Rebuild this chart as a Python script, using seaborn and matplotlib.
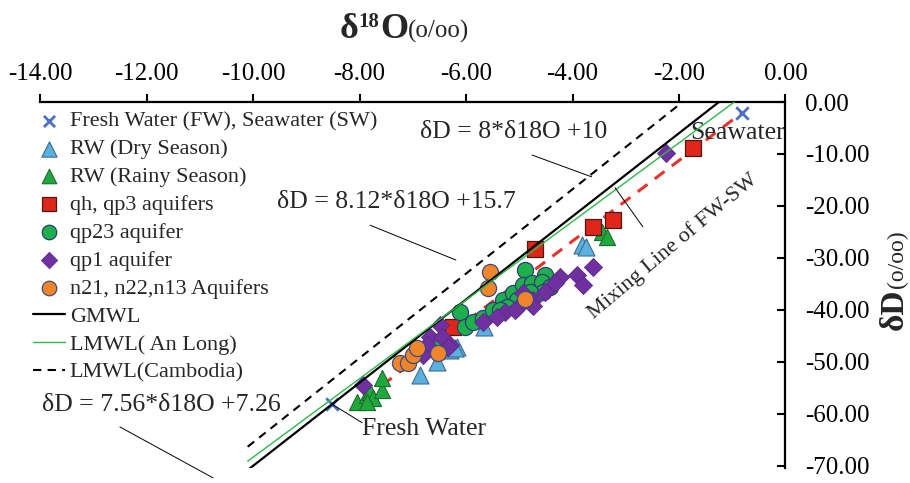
import numpy as np
import pandas as pd
import matplotlib
matplotlib.use("Agg")
import matplotlib.pyplot as plt
import seaborn as sns
from matplotlib.transforms import IdentityTransform

# ---------------- data ----------------
fw_sw_x = [-8.52, -0.82]
fw_sw_y = [-58.1, -2.1]

dry_x = [-3.82, -3.74, -6.17, -6.30, -6.21, -6.54, -6.86, -5.66]
dry_y = [-27.5, -27.9, -47.1, -47.7, -47.3, -50.0, -52.5, -43.2]

rainy_x = [-8.05, -7.86, -7.80, -7.74, -7.57, -7.57, -7.86, -3.45, -3.35]
rainy_y = [-57.7, -56.3, -55.8, -56.9, -55.4, -53.1, -57.7, -25.0, -26.0]

qh_x = [-4.70, -6.24, -3.62, -3.24, -1.74]
qh_y = [-28.3, -43.3, -24.0, -22.7, -8.8]

qp23_x = [-4.89, -4.52, -6.11, -6.02, -5.87, -5.68, -5.49, -5.31, -5.12, -4.93,
          -4.76, -4.57, -4.42, -4.55, -4.80, -5.04, -5.23, -5.36, -6.58]
qp23_y = [-32.3, -33.3, -40.4, -43.3, -42.3, -41.5, -40.0, -38.1, -36.7, -35.2,
          -34.8, -34.6, -35.6, -36.5, -36.5, -38.1, -39.4, -40.0, -46.7]

qp1_x = [-2.24, -3.62, -3.92, -3.80, -4.23, -4.33, -4.52, -4.74, -4.93, -5.04,
         -5.27, -5.42, -5.68, -6.49, -6.68, -6.45, -6.30, -6.73, -6.81, -6.34,
         -7.93, -4.74, -5.08]
qp1_y = [-9.8, -31.7, -33.3, -35.2, -33.7, -34.8, -36.5, -38.1, -36.7, -39.6,
         -40.4, -41.3, -42.3, -42.9, -45.2, -45.2, -46.7, -46.7, -48.7, -47.1,
         -54.4, -39.2, -40.0]

n2_x = [-5.55, -5.59, -4.89, -6.53, -7.24, -7.09, -7.00, -6.92]
n2_y = [-32.7, -35.8, -37.9, -48.3, -50.2, -50.2, -48.7, -47.3]

mwl_names = ["GMWL", "LMWL( An Long)", "LMWL(Cambodia)"]
mwl_slope = [8.0, 7.56, 8.12]
mwl_intercept = [10.0, 7.26, 15.7]
mwl_x_range = [-10.1, 0.0]

mix_x = [-7.9, -0.82]
mix_y = [-57.0, -2.1]

x_ticks = [-14, -12, -10, -8, -6, -4, -2, 0]
y_ticks = [0, -10, -20, -30, -40, -50, -60, -70]

# ---------------- style ----------------
sns.set_theme(style="white")
plt.rcParams["font.family"] = ["Liberation Serif", "DejaVu Serif"]
plt.rcParams["axes.unicode_minus"] = False

W, H = 910, 483
fig = plt.figure(figsize=(W / 100, H / 100), dpi=100)
ax = fig.add_axes([40 / W, 1 - 468 / H, (785.5 - 40) / W, (468 - 102) / H])

# mixing line (under markers)
sns.lineplot(x=mix_x, y=mix_y, ax=ax, color="#e8332a", lw=2.2,
             linestyle=(0, (4, 3)), sort=False, estimator=None, zorder=1)

groups = [
    (fw_sw_x, fw_sw_y, "Fresh Water (FW), Seawater (SW)", "x", "#4a6fc4", "#4a6fc4", 80, 2.0),
    (dry_x, dry_y, "RW (Dry Season)", "^", "#5ab0e0", "#3f6d8f", 150, 0.8),
    (rainy_x, rainy_y, "RW (Rainy Season)", "^", "#1fa83c", "#1d6a2e", 135, 0.8),
    (qh_x, qh_y, "qh, qp3 aquifers", "s", "#e0261b", "#4a1a10", 130, 0.9),
    (qp23_x, qp23_y, "qp23 aquifer", "o", "#1eb04a", "#2b3d7a", 135, 0.9),
    (qp1_x, qp1_y, "qp1 aquifer", "D", "#7030a0", "#5b2a8a", 85, 0.6),
    (n2_x, n2_y, "n21, n22,n13 Aquifers", "o", "#f0852a", "#3d4c80", 135, 0.9),
]
for gx, gy, lab, mk, fc, ec, s, lw in groups:
    df = pd.DataFrame({"x": gx, "y": gy})
    if mk == "x":
        sns.scatterplot(data=df, x="x", y="y", ax=ax, marker=mk, color=fc, s=s,
                        linewidth=lw, label=lab, zorder=3)
    else:
        sns.scatterplot(data=df, x="x", y="y", ax=ax, marker=mk, color=fc,
                        edgecolor=ec, s=s, linewidth=lw, label=lab, zorder=3)

line_styles = [("black", 1.6, "-"), ("#2db84a", 1.0, "-"), ("black", 1.5, (0, (4, 3)))]
for name, sl, ic, (c, lw, ls) in zip(mwl_names, mwl_slope, mwl_intercept, line_styles):
    xs = np.array(mwl_x_range)
    ys = sl * xs + ic
    sns.lineplot(x=xs, y=ys, ax=ax, color=c, lw=lw, linestyle=ls, label=name,
                 sort=False, estimator=None, zorder=4)

# ---------------- axes ----------------
ax.set_xlim(-14, 0)
ax.set_ylim(-70.4, 0)
ax.xaxis.tick_top()
ax.yaxis.tick_right()
ax.set_xticks(x_ticks)
ax.set_yticks(y_ticks)
ax.set_xticklabels([f"{v:.2f}" for v in x_ticks])
ax.set_yticklabels([f"{v:.2f}" for v in y_ticks])
for side in ["left", "bottom"]:
    ax.spines[side].set_visible(False)
for side in ["top", "right"]:
    ax.spines[side].set_visible(True)
    ax.spines[side].set_color("black")
    ax.spines[side].set_linewidth(1.6)
ax.tick_params(axis="x", direction="out", length=6, width=1.5, pad=6,
               labelsize=18, colors="black", top=True, bottom=False)
ax.tick_params(axis="y", direction="in", length=6, width=1.5, pad=14,
               labelsize=18, colors="black", right=True, left=False)
ax.set_xlabel("")
ax.set_ylabel("")
ax.grid(False)

# ---------------- legend ----------------
handles, labels = ax.get_legend_handles_labels()
order = [g[2] for g in groups] + mwl_names
hmap = dict(zip(labels, handles))
leg = ax.legend([hmap[o] for o in order], order, loc="upper left",
                bbox_to_anchor=(33 / W, 1 - 111 / H), bbox_transform=fig.transFigure,
                frameon=False, fontsize=16, borderpad=0, borderaxespad=0,
                handlelength=1.45, handletextpad=0.2, labelspacing=0.33,
                markerscale=0.9)

# ---------------- annotations ----------------
tfs = 18.5
ax.text(-6.86, -5.8, "δD = 8*δ18O +10", fontsize=tfs, ha="left", va="center")
ax.text(-9.55, -19.2, "δD = 8.12*δ18O +15.7", fontsize=tfs, ha="left", va="center")
ax.text(-13.96, -58.3, "δD = 7.56*δ18O +7.26", fontsize=tfs, ha="left", va="center")
ax.text(-7.95, -62.9, "Fresh Water", fontsize=tfs, ha="left", va="center")
ax.text(-1.79, -6.0, "Seawater", fontsize=tfs, ha="left", va="center")
ax.text(-2.12, -27.8, "Mixing Line of FW-SW", fontsize=16, ha="center",
        va="center", rotation=40, rotation_mode="anchor")

leaders = [
    ([-4.76, -3.64], [-10.2, -14.4]),
    ([-7.80, -6.19], [-23.7, -30.4]),
    ([-12.50, -10.75], [-62.5, -72.3]),
    ([-3.20, -2.68], [-16.5, -24.0]),
    ([-8.52, -7.95], [-58.1, -61.7]),
]
for lx, ly in leaders:
    ax.plot(lx, ly, color="black", lw=0.7, clip_on=False, zorder=5)

# ---------------- axis titles built piecewise ----------------
fig.canvas.draw()
renderer = fig.canvas.get_renderer()

def seq_text(x0, base, parts, vertical=False):
    cur = x0
    for s, size, weight, dy in parts:
        if not vertical:
            t = fig.text(cur, H - base + dy, s, fontsize=size, fontweight=weight,
                         ha="left", va="baseline", transform=IdentityTransform())
            cur += t.get_window_extent(renderer).width
        else:
            t = fig.text(base - dy, cur, s, fontsize=size, fontweight=weight,
                         ha="left", va="baseline", rotation=90,
                         rotation_mode="anchor", transform=IdentityTransform())
            cur += t.get_window_extent(renderer).height

title_parts = [("δ", 26, "bold", 0), ("18", 15, "bold", 11), ("O", 26, "bold", 0),
               ("(o/oo)", 18, "normal", 0)]
seq_text(340, 38, title_parts)
ylab_parts = [("δD", 24, "bold", 0), ("(o/oo)", 17, "normal", 0)]
seq_text(H - 330, 903, ylab_parts, vertical=True)

fig.savefig("out.png", dpi=100)
